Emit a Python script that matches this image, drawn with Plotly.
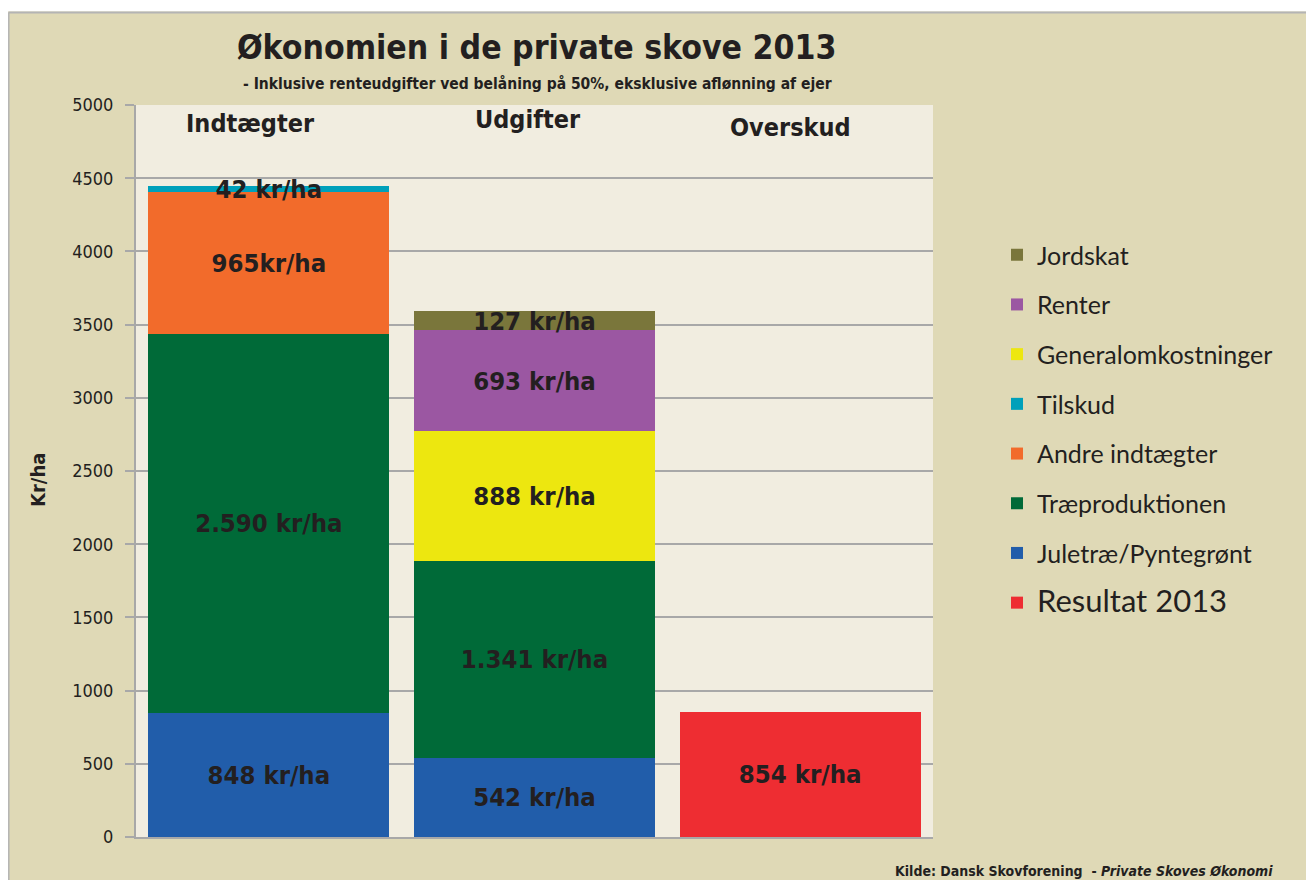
import plotly.graph_objects as go

# ---------------- data ----------------
categories = ["Indtægter", "Udgifter", "Overskud"]

juletrae_x = ["Indtægter", "Udgifter"]
juletrae_y = [848, 542]
juletrae_txt = ["848 kr/ha", "542 kr/ha"]

trae_x = ["Indtægter", "Udgifter"]
trae_y = [2590, 1341]
trae_txt = ["2.590 kr/ha", "1.341 kr/ha"]

andre_x = ["Indtægter"]
andre_y = [965]
andre_txt = ["965kr/ha"]

tilskud_x = ["Indtægter"]
tilskud_y = [42]
tilskud_txt = ["42 kr/ha"]

general_x = ["Udgifter"]
general_y = [888]
general_txt = ["888 kr/ha"]

renter_x = ["Udgifter"]
renter_y = [693]
renter_txt = ["693 kr/ha"]

jordskat_x = ["Udgifter"]
jordskat_y = [127]
jordskat_txt = ["127 kr/ha"]

resultat_x = ["Overskud"]
resultat_y = [854]
resultat_txt = ["854 kr/ha"]

y_ticks = [0, 500, 1000, 1500, 2000, 2500, 3000, 3500, 4000, 4500, 5000]

# ---------------- layout helpers ----------------
OFF = 8                      # default page body margin
W, H = 1314 - OFF, 880 - OFF
PL, PR, PT, PB = 136, 933, 105, 837  # plot area in page pixels


def px_x(p):
    return (p - PL) / (PR - PL)


def px_y(p):
    return (PB - p) / (PB - PT)


DARK = "#231F20"
COND = "DejaVu Sans Condensed, Liberation Sans Narrow, Arial Narrow, sans-serif"
LEG = "Lato, Noto Sans, sans-serif"

fig = go.Figure()

series = [
    ("Juletræ/Pyntegrønt", juletrae_x, juletrae_y, juletrae_txt, "#215DAA", 7),
    ("Træproduktionen", trae_x, trae_y, trae_txt, "#006A38", 6),
    ("Andre indtægter", andre_x, andre_y, andre_txt, "#F26B2B", 5),
    ("Tilskud", tilskud_x, tilskud_y, tilskud_txt, "#00A0BA", 4),
    ("Generalomkostninger", general_x, general_y, general_txt, "#EDE70F", 3),
    ("Renter", renter_x, renter_y, renter_txt, "#9B57A2", 2),
    ("Jordskat", jordskat_x, jordskat_y, jordskat_txt, "#7A763B", 1),
    ("<span style='font-size:31px'>Resultat 2013</span>", resultat_x, resultat_y,
     resultat_txt, "#EE2D32", 8),
]

for name, xs, ys, txt, color, rank in series:
    fig.add_trace(go.Bar(
        x=xs, y=ys, name=name, text=txt,
        marker=dict(color=color, line=dict(width=0)),
        textposition="inside", insidetextanchor="middle",
        textangle=0, constraintext="none",
        textfont=dict(family=COND, size=25.5, color=DARK, weight="bold"),
        legendrank=rank, legendgroup=str(rank),
        hoverinfo="skip",
    ))

fig.update_layout(
    width=W, height=H,
    barmode="stack", bargap=0.093,
    paper_bgcolor="#DFD9B6",
    plot_bgcolor="#F1EDE0",
    margin=dict(l=PL - OFF, r=W - (PR - OFF), t=PT - OFF, b=H - (PB - OFF),
                autoexpand=False),
    showlegend=True,
    legend=dict(
        x=px_x(997), xanchor="left",
        y=px_y(232), yanchor="top",
        font=dict(family=LEG, size=25, color=DARK),
        bgcolor="rgba(0,0,0,0)",
        tracegroupgap=14.2,
        traceorder="grouped",
    ),
    xaxis=dict(
        categoryorder="array", categoryarray=categories,
        showticklabels=False, ticks="",
        showline=True, linecolor="#A8A8A8", linewidth=2,
        showgrid=False, range=[-0.5, 2.5],
    ),
    yaxis=dict(
        range=[0, 5000], tickvals=y_ticks,
        ticks="outside", ticklen=9, tickcolor="#A8A8A8", tickwidth=2,
        ticklabelstandoff=8,
        showline=True, linecolor="#A8A8A8", linewidth=2,
        showgrid=True, gridcolor="#A8A8A8", gridwidth=2,
        zeroline=False,
        tickfont=dict(family=COND, size=18, color=DARK),
    ),
)

# white strip at the top + grey frame line
shapes = [
    dict(type="rect", xref="paper", yref="paper", layer="above",
         x0=px_x(-20), x1=px_x(1340), y0=px_y(11.5), y1=px_y(-20),
         fillcolor="white", line=dict(width=0)),
    dict(type="line", xref="paper", yref="paper", layer="above",
         x0=px_x(8.5), x1=px_x(1340), y0=px_y(12.5), y1=px_y(12.5),
         line=dict(color="#B4B4B4", width=2)),
    dict(type="line", xref="paper", yref="paper", layer="above",
         x0=px_x(8.8), x1=px_x(8.8), y0=px_y(12.5), y1=px_y(900),
         line=dict(color="#B4B4B4", width=1.5)),
]
fig.update_layout(shapes=shapes)

annotations = [
    dict(text="<b>Økonomien i de private skove 2013</b>", xref="paper", yref="paper",
         x=px_x(536), y=px_y(47), xanchor="center", yanchor="middle",
         showarrow=False, font=dict(family=COND, size=33.5, color=DARK)),
    dict(text="<b>- Inklusive renteudgifter ved belåning på 50%, eksklusive aflønning af ejer</b>",
         xref="paper", yref="paper",
         x=px_x(537), y=px_y(84), xanchor="center", yanchor="middle",
         showarrow=False, font=dict(family=COND, size=15.5, color=DARK)),
    dict(text="<b>Kr/ha</b>", xref="paper", yref="paper", textangle=-90,
         x=px_x(38), y=px_y(480), xanchor="center", yanchor="middle",
         showarrow=False, font=dict(family=COND, size=20, color=DARK)),
    dict(text="<b>Kilde: Dansk Skovforening  - <i>Private Skoves Økonomi</i></b>",
         xref="paper", yref="paper",
         x=px_x(1275), y=px_y(871), xanchor="right", yanchor="middle",
         showarrow=False, font=dict(family=COND, size=14, color=DARK)),
]
cat_label_pos = {"Indtægter": (250, 123), "Udgifter": (528, 120), "Overskud": (790, 127)}
for c in categories:
    px, py = cat_label_pos[c]
    annotations.append(dict(
        text="<b>" + c + "</b>", xref="paper", yref="paper",
        x=px_x(px), y=px_y(py), xanchor="center", yanchor="middle",
        showarrow=False, font=dict(family=COND, size=25, color=DARK)))
fig.update_layout(annotations=annotations)

fig.write_html("out.html")
